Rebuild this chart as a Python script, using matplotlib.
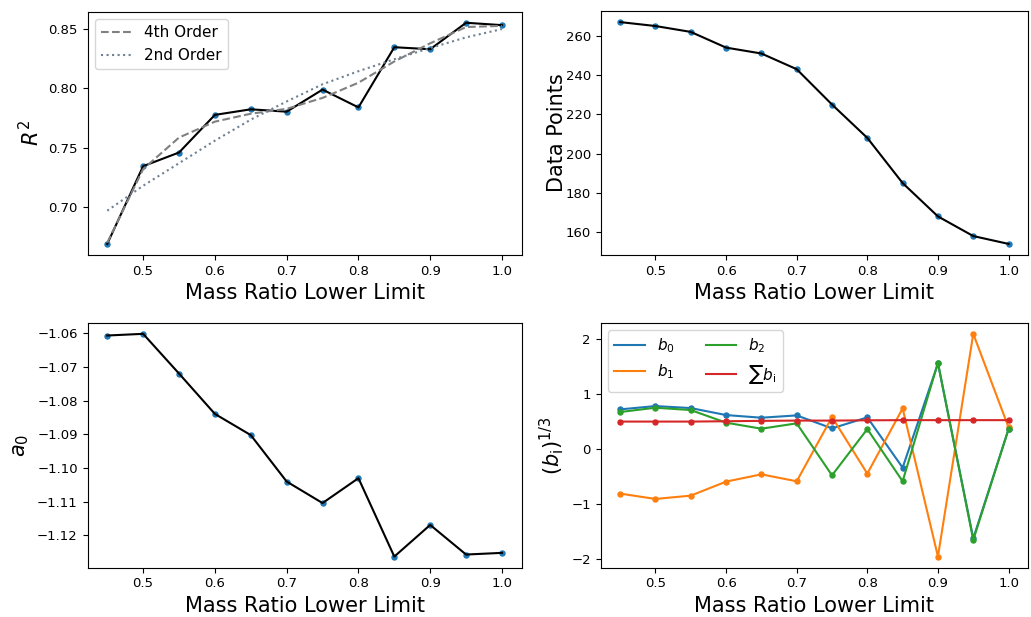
import matplotlib
matplotlib.use('Agg')
import matplotlib.pyplot as plt
from matplotlib.ticker import MultipleLocator

# Mass ratio lower limit (shared x)
q_min = [0.45, 0.50, 0.55, 0.60, 0.65, 0.70, 0.75, 0.80, 0.85, 0.90, 0.95, 1.00]

# top-left: R^2 and its polynomial fits
r2 = [0.669, 0.7345, 0.746, 0.7777, 0.7824, 0.7804, 0.799, 0.784, 0.8347, 0.833, 0.8553, 0.8533]
r2_fit4 = [0.670, 0.732, 0.7586, 0.772, 0.7787, 0.7828, 0.792, 0.8048, 0.8227, 0.838, 0.8517, 0.8527]
r2_fit2 = [0.697, 0.718, 0.737, 0.756, 0.7737, 0.789, 0.8035, 0.8145, 0.8246, 0.834, 0.843, 0.850]

# top-right: number of data points
n_points = [267, 265, 262, 254, 251, 243, 225, 208, 185, 168, 158, 154]

# bottom-left: a0
a0 = [-1.0606, -1.0601, -1.0719, -1.0839, -1.0902, -1.1040, -1.1104, -1.1030,
      -1.1263, -1.1169, -1.1257, -1.1252]

# bottom-right: cube roots of b coefficients
b0 = [0.718, 0.778, 0.742, 0.615, 0.567, 0.609, 0.374, 0.573, -0.338, 1.55, -1.62, 0.362]
b1 = [-0.808, -0.905, -0.845, -0.591, -0.459, -0.585, 0.579, -0.446, 0.736, -1.949, 2.087, 0.392]
b2 = [0.670, 0.748, 0.706, 0.477, 0.368, 0.465, -0.477, 0.362, -0.585, 1.563, -1.647, 0.362]
b_sum = [0.497, 0.497, 0.497, 0.503, 0.510, 0.515, 0.515, 0.520, 0.523, 0.523, 0.523, 0.523]

W, H = 1031, 617
fig = plt.figure(figsize=(W / 100, H / 100), dpi=100)


def box(x0, y0, x1, y1):
    # pixel box -> figure fraction
    return [x0 / W, 1 - y1 / H, (x1 - x0) / W, (y1 - y0) / H]


ax_tl = fig.add_axes(box(87.5, 11.7, 521.7, 255))
ax_tr = fig.add_axes(box(600.7, 11.0, 1028, 255))
ax_bl = fig.add_axes(box(87.5, 322.7, 521.7, 567.7))
ax_br = fig.add_axes(box(600.7, 322.7, 1028, 567.7))

LABEL_FS = 15
TICK_FS = 9.5
LEG_FS = 11

for ax in (ax_tl, ax_tr, ax_bl, ax_br):
    ax.tick_params(labelsize=TICK_FS, length=3.5, width=0.8)
    for s in ax.spines.values():
        s.set_linewidth(0.8)
    ax.set_xlabel("Mass Ratio Lower Limit", fontsize=LABEL_FS)
    ax.set_xticks([0.5, 0.6, 0.7, 0.8, 0.9, 1.0])

# R^2
ax_tl.plot(q_min, r2, 'o', color='C0', ms=3.6)
ax_tl.plot(q_min, r2, '-', color='k', lw=1.5)
ax_tl.plot(q_min, r2_fit4, '--', color='gray', lw=1.5, label="4th Order")
ax_tl.plot(q_min, r2_fit2, ':', color='slategray', lw=1.5, label="2nd Order")
ax_tl.set_ylabel("$R^2$", fontsize=LABEL_FS)
ax_tl.yaxis.set_major_locator(MultipleLocator(0.05))
ax_tl.legend(fontsize=LEG_FS, loc='upper left')

# data points
ax_tr.plot(q_min, n_points, 'o', color='C0', ms=3.6)
ax_tr.plot(q_min, n_points, '-', color='k', lw=1.5)
ax_tr.set_ylabel("Data Points", fontsize=LABEL_FS, labelpad=-1)
ax_tr.yaxis.set_major_locator(MultipleLocator(20))

# a0
ax_bl.plot(q_min, a0, 'o', color='C0', ms=3.6)
ax_bl.plot(q_min, a0, '-', color='k', lw=1.5)
ax_bl.set_ylabel("$a_0$", fontsize=LABEL_FS)
ax_bl.yaxis.set_major_locator(MultipleLocator(0.01))

# b coefficients
series = [(b0, r'$b_0$', 'C0'), (b1, r'$b_1$', 'C1'),
          (b2, r'$b_2$', 'C2'), (b_sum, r'$\sum b_{\rm i}$', 'C3')]
for vals, lab, c in series:
    ax_br.plot(q_min, vals, '-', color=c, lw=1.5, label=lab)
    ax_br.plot(q_min, vals, 'o', color=c, ms=3.6)
ax_br.set_ylabel(r"$(b_{\rm i})^{1/3}$", fontsize=LABEL_FS)
ax_br.yaxis.set_major_locator(MultipleLocator(1))
ax_br.legend(fontsize=LEG_FS, ncol=2, loc='upper left')

plt.savefig("out.png", dpi=100)
